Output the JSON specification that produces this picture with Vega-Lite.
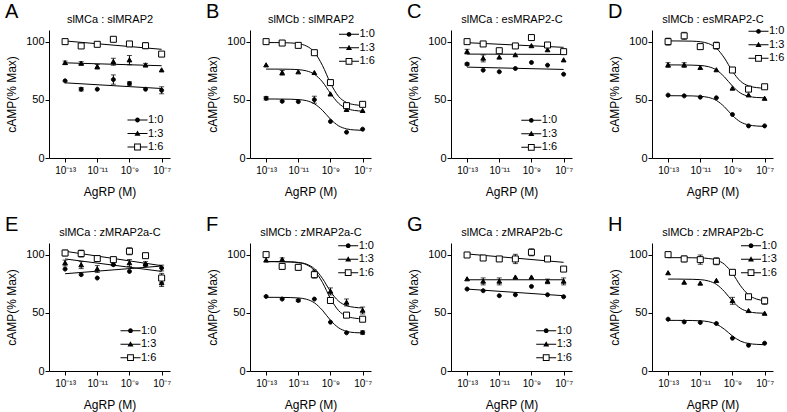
{
"$schema": "https://vega.github.io/schema/vega-lite/v6.json",
"background": "white",
"padding": {"left": 5, "top": 2, "right": 0, "bottom": 5},
"config": {
 "font": "Liberation Sans",
 "view": {"stroke": null},
 "axis": {"domainColor": "black", "tickColor": "black", "labelColor": "black", "titleColor": "black", "grid": false, "labelFontSize": 11, "titleFontSize": 12, "titleFontWeight": "normal", "tickSize": 4, "domainWidth": 1, "tickWidth": 1},
 "legend": {"labelFontSize": 11, "labelColor": "black", "padding": 0, "rowPadding": 1.5, "labelOffset": 5, "symbolSize": 64, "symbolStrokeWidth": 0, "symbolOpacity": 1, "title": null},
 "title": {"fontSize": 20, "fontWeight": "normal", "color": "black", "anchor": "start", "frame": "group", "dx": -44, "offset": -9, "baseline": "alphabetic"}
},
"datasets": {
 "pts": [
  {"p":"A","s":"1:0","x":-13,"y":66.3,"e":0},{"p":"A","s":"1:0","x":-12,"y":59.1,"e":1.5},{"p":"A","s":"1:0","x":-11,"y":59.1,"e":0},{"p":"A","s":"1:0","x":-10,"y":67.4,"e":4},{"p":"A","s":"1:0","x":-9,"y":64.0,"e":1.5},{"p":"A","s":"1:0","x":-8,"y":59.1,"e":0},{"p":"A","s":"1:0","x":-7,"y":58.2,"e":3},
  {"p":"A","s":"1:3","x":-13,"y":81.8,"e":1.5},{"p":"A","s":"1:3","x":-12,"y":81.3,"e":1.5},{"p":"A","s":"1:3","x":-11,"y":78.4,"e":2},{"p":"A","s":"1:3","x":-10,"y":82.7,"e":3},{"p":"A","s":"1:3","x":-9,"y":84.1,"e":4},{"p":"A","s":"1:3","x":-8,"y":79.8,"e":1.5},{"p":"A","s":"1:3","x":-7,"y":75.5,"e":0},
  {"p":"A","s":"1:6","x":-13,"y":100,"e":0},{"p":"A","s":"1:6","x":-12,"y":96.3,"e":0},{"p":"A","s":"1:6","x":-11,"y":97.7,"e":1.5},{"p":"A","s":"1:6","x":-10,"y":102,"e":0},{"p":"A","s":"1:6","x":-9,"y":98,"e":0},{"p":"A","s":"1:6","x":-8,"y":96.5,"e":2.5},{"p":"A","s":"1:6","x":-7,"y":89.3,"e":0},
  {"p":"B","s":"1:0","x":-13,"y":51.3,"e":1.5},{"p":"B","s":"1:0","x":-12,"y":48.7,"e":0},{"p":"B","s":"1:0","x":-11,"y":48.4,"e":0},{"p":"B","s":"1:0","x":-10,"y":50.1,"e":3},{"p":"B","s":"1:0","x":-9,"y":31.4,"e":0},{"p":"B","s":"1:0","x":-8,"y":22.2,"e":0},{"p":"B","s":"1:0","x":-7,"y":24.8,"e":0},
  {"p":"B","s":"1:3","x":-13,"y":79.8,"e":0},{"p":"B","s":"1:3","x":-12,"y":73.2,"e":2},{"p":"B","s":"1:3","x":-11,"y":73.8,"e":0},{"p":"B","s":"1:3","x":-10,"y":73.2,"e":0},{"p":"B","s":"1:3","x":-9,"y":54.8,"e":0},{"p":"B","s":"1:3","x":-8,"y":41.5,"e":0},{"p":"B","s":"1:3","x":-7,"y":40.6,"e":0},
  {"p":"B","s":"1:6","x":-13,"y":100,"e":0},{"p":"B","s":"1:6","x":-12,"y":98.8,"e":0},{"p":"B","s":"1:6","x":-11,"y":96.8,"e":0},{"p":"B","s":"1:6","x":-10,"y":90.5,"e":0},{"p":"B","s":"1:6","x":-9,"y":64.8,"e":2},{"p":"B","s":"1:6","x":-8,"y":45,"e":0},{"p":"B","s":"1:6","x":-7,"y":46.1,"e":0},
  {"p":"C","s":"1:0","x":-13,"y":80.7,"e":1},{"p":"C","s":"1:0","x":-12,"y":75.5,"e":0},{"p":"C","s":"1:0","x":-11,"y":74.1,"e":0},{"p":"C","s":"1:0","x":-10,"y":76.9,"e":0},{"p":"C","s":"1:0","x":-9,"y":82.1,"e":0},{"p":"C","s":"1:0","x":-8,"y":79.8,"e":0},{"p":"C","s":"1:0","x":-7,"y":72,"e":0},
  {"p":"C","s":"1:3","x":-13,"y":91.4,"e":2},{"p":"C","s":"1:3","x":-12,"y":85.6,"e":3},{"p":"C","s":"1:3","x":-11,"y":86.5,"e":0},{"p":"C","s":"1:3","x":-10,"y":88.5,"e":0},{"p":"C","s":"1:3","x":-9,"y":96.3,"e":0},{"p":"C","s":"1:3","x":-8,"y":92.8,"e":0},{"p":"C","s":"1:3","x":-7,"y":84.1,"e":0},
  {"p":"C","s":"1:6","x":-13,"y":100,"e":1.5},{"p":"C","s":"1:6","x":-12,"y":98,"e":1.5},{"p":"C","s":"1:6","x":-11,"y":92.2,"e":0},{"p":"C","s":"1:6","x":-10,"y":96.3,"e":1.5},{"p":"C","s":"1:6","x":-9,"y":103.5,"e":0},{"p":"C","s":"1:6","x":-8,"y":97.1,"e":0},{"p":"C","s":"1:6","x":-7,"y":91.4,"e":1.5},
  {"p":"D","s":"1:0","x":-13,"y":54,"e":0},{"p":"D","s":"1:0","x":-12,"y":53.4,"e":0},{"p":"D","s":"1:0","x":-11,"y":52.3,"e":0},{"p":"D","s":"1:0","x":-10,"y":51.7,"e":0},{"p":"D","s":"1:0","x":-9,"y":37.4,"e":0},{"p":"D","s":"1:0","x":-8,"y":27.6,"e":0},{"p":"D","s":"1:0","x":-7,"y":27.6,"e":0},
  {"p":"D","s":"1:3","x":-13,"y":79.9,"e":2},{"p":"D","s":"1:3","x":-12,"y":79.9,"e":2},{"p":"D","s":"1:3","x":-11,"y":77.6,"e":0},{"p":"D","s":"1:3","x":-10,"y":75.6,"e":0},{"p":"D","s":"1:3","x":-9,"y":59.8,"e":0},{"p":"D","s":"1:3","x":-8,"y":54,"e":0},{"p":"D","s":"1:3","x":-7,"y":51.1,"e":0},
  {"p":"D","s":"1:6","x":-13,"y":100,"e":3},{"p":"D","s":"1:6","x":-12,"y":105,"e":3},{"p":"D","s":"1:6","x":-11,"y":95.7,"e":2},{"p":"D","s":"1:6","x":-10,"y":96.6,"e":3},{"p":"D","s":"1:6","x":-9,"y":75.6,"e":0},{"p":"D","s":"1:6","x":-8,"y":59.2,"e":1.5},{"p":"D","s":"1:6","x":-7,"y":61.2,"e":0},
  {"p":"E","s":"1:0","x":-13,"y":87.6,"e":0},{"p":"E","s":"1:0","x":-12,"y":82.8,"e":0},{"p":"E","s":"1:0","x":-11,"y":79.9,"e":0},{"p":"E","s":"1:0","x":-10,"y":91.4,"e":0},{"p":"E","s":"1:0","x":-9,"y":85.6,"e":0},{"p":"E","s":"1:0","x":-8,"y":91.4,"e":0},{"p":"E","s":"1:0","x":-7,"y":88.5,"e":2.5},
  {"p":"E","s":"1:3","x":-13,"y":92.8,"e":2.5},{"p":"E","s":"1:3","x":-12,"y":91,"e":3},{"p":"E","s":"1:3","x":-11,"y":87.6,"e":3},{"p":"E","s":"1:3","x":-10,"y":92,"e":0},{"p":"E","s":"1:3","x":-9,"y":92.8,"e":3},{"p":"E","s":"1:3","x":-8,"y":92,"e":2},{"p":"E","s":"1:3","x":-7,"y":75.6,"e":3},
  {"p":"E","s":"1:6","x":-13,"y":101.4,"e":2.5},{"p":"E","s":"1:6","x":-12,"y":100.9,"e":3},{"p":"E","s":"1:6","x":-11,"y":96.6,"e":2.5},{"p":"E","s":"1:6","x":-10,"y":95.7,"e":0},{"p":"E","s":"1:6","x":-9,"y":102.9,"e":3},{"p":"E","s":"1:6","x":-8,"y":99.1,"e":1.5},{"p":"E","s":"1:6","x":-7,"y":79.9,"e":4},
  {"p":"F","s":"1:0","x":-13,"y":64.1,"e":0},{"p":"F","s":"1:0","x":-12,"y":61.8,"e":0},{"p":"F","s":"1:0","x":-11,"y":60.6,"e":1},{"p":"F","s":"1:0","x":-10,"y":61.8,"e":0},{"p":"F","s":"1:0","x":-9,"y":42,"e":0},{"p":"F","s":"1:0","x":-8,"y":32.8,"e":0},{"p":"F","s":"1:0","x":-7,"y":33,"e":1.5},
  {"p":"F","s":"1:3","x":-13,"y":95.1,"e":0},{"p":"F","s":"1:3","x":-12,"y":95.7,"e":1.5},{"p":"F","s":"1:3","x":-11,"y":89.6,"e":0},{"p":"F","s":"1:3","x":-10,"y":84.8,"e":2},{"p":"F","s":"1:3","x":-9,"y":68.4,"e":3},{"p":"F","s":"1:3","x":-8,"y":58.9,"e":3},{"p":"F","s":"1:3","x":-7,"y":52,"e":3},
  {"p":"F","s":"1:6","x":-13,"y":100,"e":2},{"p":"F","s":"1:6","x":-12,"y":89.9,"e":2.5},{"p":"F","s":"1:6","x":-11,"y":89.1,"e":2.5},{"p":"F","s":"1:6","x":-10,"y":82.8,"e":3},{"p":"F","s":"1:6","x":-9,"y":60.6,"e":2},{"p":"F","s":"1:6","x":-8,"y":48,"e":0},{"p":"F","s":"1:6","x":-7,"y":44.5,"e":0},
  {"p":"G","s":"1:0","x":-13,"y":70.4,"e":0},{"p":"G","s":"1:0","x":-12,"y":69,"e":0},{"p":"G","s":"1:0","x":-11,"y":64.7,"e":0},{"p":"G","s":"1:0","x":-10,"y":65.5,"e":0},{"p":"G","s":"1:0","x":-9,"y":72.7,"e":0},{"p":"G","s":"1:0","x":-8,"y":65.5,"e":0},{"p":"G","s":"1:0","x":-7,"y":63.8,"e":0},
  {"p":"G","s":"1:3","x":-13,"y":79,"e":0},{"p":"G","s":"1:3","x":-12,"y":77,"e":3},{"p":"G","s":"1:3","x":-11,"y":77,"e":3},{"p":"G","s":"1:3","x":-10,"y":80.5,"e":0},{"p":"G","s":"1:3","x":-9,"y":80.5,"e":0},{"p":"G","s":"1:3","x":-8,"y":77,"e":2},{"p":"G","s":"1:3","x":-7,"y":77,"e":3},
  {"p":"G","s":"1:6","x":-13,"y":99.7,"e":1.5},{"p":"G","s":"1:6","x":-12,"y":97.1,"e":0},{"p":"G","s":"1:6","x":-11,"y":96.3,"e":2},{"p":"G","s":"1:6","x":-10,"y":96.3,"e":4},{"p":"G","s":"1:6","x":-9,"y":102,"e":3},{"p":"G","s":"1:6","x":-8,"y":96.3,"e":1.5},{"p":"G","s":"1:6","x":-7,"y":87.6,"e":0},
  {"p":"H","s":"1:0","x":-13,"y":44.5,"e":0},{"p":"H","s":"1:0","x":-12,"y":42.2,"e":0},{"p":"H","s":"1:0","x":-11,"y":41.7,"e":0},{"p":"H","s":"1:0","x":-10,"y":40.8,"e":0},{"p":"H","s":"1:0","x":-9,"y":28.2,"e":0},{"p":"H","s":"1:0","x":-8,"y":22.1,"e":0},{"p":"H","s":"1:0","x":-7,"y":23.9,"e":0},
  {"p":"H","s":"1:3","x":-13,"y":84.2,"e":0},{"p":"H","s":"1:3","x":-12,"y":76.1,"e":0},{"p":"H","s":"1:3","x":-11,"y":75.3,"e":0},{"p":"H","s":"1:3","x":-10,"y":77.6,"e":0},{"p":"H","s":"1:3","x":-9,"y":60.3,"e":3},{"p":"H","s":"1:3","x":-8,"y":51.7,"e":0},{"p":"H","s":"1:3","x":-7,"y":49.4,"e":0},
  {"p":"H","s":"1:6","x":-13,"y":100,"e":2},{"p":"H","s":"1:6","x":-12,"y":96.3,"e":2.5},{"p":"H","s":"1:6","x":-11,"y":95.7,"e":4},{"p":"H","s":"1:6","x":-10,"y":94.3,"e":3},{"p":"H","s":"1:6","x":-9,"y":84.8,"e":2},{"p":"H","s":"1:6","x":-8,"y":63.8,"e":0},{"p":"H","s":"1:6","x":-7,"y":60.3,"e":3}
 ],
 "fit": [
  {"p":"A","s":"1:0","x":-13,"y":64.6},{"p":"A","s":"1:0","x":-7,"y":59.7},
  {"p":"A","s":"1:3","x":-13,"y":81.8},{"p":"A","s":"1:3","x":-7,"y":79.3},
  {"p":"A","s":"1:6","x":-13,"y":100.6},{"p":"A","s":"1:6","x":-7,"y":93.4},
  {"p":"C","s":"1:0","x":-13,"y":78.1},{"p":"C","s":"1:0","x":-7,"y":76.1},
  {"p":"C","s":"1:3","x":-13,"y":89.3},{"p":"C","s":"1:3","x":-7,"y":89.0},
  {"p":"C","s":"1:6","x":-13,"y":99.1},{"p":"C","s":"1:6","x":-7,"y":95.1},
  {"p":"E","s":"1:0","x":-13,"y":83.6},{"p":"E","s":"1:0","x":-7,"y":90.2},
  {"p":"E","s":"1:3","x":-13,"y":96.3},{"p":"E","s":"1:3","x":-7,"y":85.6},
  {"p":"E","s":"1:6","x":-13,"y":102.9},{"p":"E","s":"1:6","x":-7,"y":90.5},
  {"p":"G","s":"1:0","x":-13,"y":70.4},{"p":"G","s":"1:0","x":-7,"y":64.7},
  {"p":"G","s":"1:3","x":-13,"y":78.4},{"p":"G","s":"1:3","x":-7,"y":78.4},
  {"p":"G","s":"1:6","x":-13,"y":100.6},{"p":"G","s":"1:6","x":-7,"y":93.4},
  {"p":"B","s":"1:0","x":-13,"y":50.7},{"p":"B","s":"1:0","x":-12.5,"y":50.7},{"p":"B","s":"1:0","x":-12,"y":50.6},{"p":"B","s":"1:0","x":-11.5,"y":50.55},{"p":"B","s":"1:0","x":-11,"y":50.2},{"p":"B","s":"1:0","x":-10.5,"y":49.3},{"p":"B","s":"1:0","x":-10,"y":46.6},{"p":"B","s":"1:0","x":-9.5,"y":41.0},{"p":"B","s":"1:0","x":-9,"y":33.4},{"p":"B","s":"1:0","x":-8.5,"y":27.7},{"p":"B","s":"1:0","x":-8,"y":25.0},{"p":"B","s":"1:0","x":-7.5,"y":24.1},{"p":"B","s":"1:0","x":-7,"y":23.75},
  {"p":"B","s":"1:3","x":-13,"y":76.4},{"p":"B","s":"1:3","x":-12.5,"y":76.4},{"p":"B","s":"1:3","x":-12,"y":76.35},{"p":"B","s":"1:3","x":-11.5,"y":76.25},{"p":"B","s":"1:3","x":-11,"y":75.9},{"p":"B","s":"1:3","x":-10.5,"y":74.9},{"p":"B","s":"1:3","x":-10,"y":72.0},{"p":"B","s":"1:3","x":-9.5,"y":65.5},{"p":"B","s":"1:3","x":-9,"y":55.6},{"p":"B","s":"1:3","x":-8.5,"y":47.1},{"p":"B","s":"1:3","x":-8,"y":42.6},{"p":"B","s":"1:3","x":-7.5,"y":40.85},{"p":"B","s":"1:3","x":-7,"y":40.3},
  {"p":"B","s":"1:6","x":-13,"y":99.2},{"p":"B","s":"1:6","x":-12.5,"y":99.2},{"p":"B","s":"1:6","x":-12,"y":99.1},{"p":"B","s":"1:6","x":-11.5,"y":98.9},{"p":"B","s":"1:6","x":-11,"y":98.2},{"p":"B","s":"1:6","x":-10.5,"y":96.3},{"p":"B","s":"1:6","x":-10,"y":91.0},{"p":"B","s":"1:6","x":-9.5,"y":79.6},{"p":"B","s":"1:6","x":-9,"y":64.4},{"p":"B","s":"1:6","x":-8.5,"y":53.0},{"p":"B","s":"1:6","x":-8,"y":47.7},{"p":"B","s":"1:6","x":-7.5,"y":45.8},{"p":"B","s":"1:6","x":-7,"y":45.1},
  {"p":"D","s":"1:0","x":-13,"y":53.5},{"p":"D","s":"1:0","x":-12.5,"y":53.5},{"p":"D","s":"1:0","x":-12,"y":53.45},{"p":"D","s":"1:0","x":-11.5,"y":53.35},{"p":"D","s":"1:0","x":-11,"y":53.0},{"p":"D","s":"1:0","x":-10.5,"y":52.1},{"p":"D","s":"1:0","x":-10,"y":49.5},{"p":"D","s":"1:0","x":-9.5,"y":44.0},{"p":"D","s":"1:0","x":-9,"y":36.5},{"p":"D","s":"1:0","x":-8.5,"y":31.0},{"p":"D","s":"1:0","x":-8,"y":28.4},{"p":"D","s":"1:0","x":-7.5,"y":27.5},{"p":"D","s":"1:0","x":-7,"y":27.15},
  {"p":"D","s":"1:3","x":-13,"y":80},{"p":"D","s":"1:3","x":-12.5,"y":80},{"p":"D","s":"1:3","x":-12,"y":79.9},{"p":"D","s":"1:3","x":-11.5,"y":79.8},{"p":"D","s":"1:3","x":-11,"y":79.5},{"p":"D","s":"1:3","x":-10.5,"y":78.5},{"p":"D","s":"1:3","x":-10,"y":75.7},{"p":"D","s":"1:3","x":-9.5,"y":69.7},{"p":"D","s":"1:3","x":-9,"y":61.8},{"p":"D","s":"1:3","x":-8.5,"y":55.8},{"p":"D","s":"1:3","x":-8,"y":53.0},{"p":"D","s":"1:3","x":-7.5,"y":52.0},{"p":"D","s":"1:3","x":-7,"y":51.7},
  {"p":"D","s":"1:6","x":-13,"y":100.6},{"p":"D","s":"1:6","x":-12.5,"y":100.6},{"p":"D","s":"1:6","x":-12,"y":100.5},{"p":"D","s":"1:6","x":-11.5,"y":100.4},{"p":"D","s":"1:6","x":-11,"y":99.9},{"p":"D","s":"1:6","x":-10.5,"y":98.4},{"p":"D","s":"1:6","x":-10,"y":94.4},{"p":"D","s":"1:6","x":-9.5,"y":85.9},{"p":"D","s":"1:6","x":-9,"y":74.5},{"p":"D","s":"1:6","x":-8.5,"y":66.0},{"p":"D","s":"1:6","x":-8,"y":62.0},{"p":"D","s":"1:6","x":-7.5,"y":60.5},{"p":"D","s":"1:6","x":-7,"y":60.0},
  {"p":"F","s":"1:0","x":-13,"y":63.3},{"p":"F","s":"1:0","x":-12.5,"y":63.3},{"p":"F","s":"1:0","x":-12,"y":63.25},{"p":"F","s":"1:0","x":-11.5,"y":63.1},{"p":"F","s":"1:0","x":-11,"y":62.8},{"p":"F","s":"1:0","x":-10.5,"y":61.7},{"p":"F","s":"1:0","x":-10,"y":58.6},{"p":"F","s":"1:0","x":-9.5,"y":52.2},{"p":"F","s":"1:0","x":-9,"y":43.6},{"p":"F","s":"1:0","x":-8.5,"y":37.2},{"p":"F","s":"1:0","x":-8,"y":34.1},{"p":"F","s":"1:0","x":-7.5,"y":33.0},{"p":"F","s":"1:0","x":-7,"y":32.7},
  {"p":"F","s":"1:3","x":-13,"y":94},{"p":"F","s":"1:3","x":-12.5,"y":94},{"p":"F","s":"1:3","x":-12,"y":93.9},{"p":"F","s":"1:3","x":-11.5,"y":93.8},{"p":"F","s":"1:3","x":-11,"y":93.3},{"p":"F","s":"1:3","x":-10.5,"y":91.9},{"p":"F","s":"1:3","x":-10,"y":87.9},{"p":"F","s":"1:3","x":-9.5,"y":79.6},{"p":"F","s":"1:3","x":-9,"y":68.4},{"p":"F","s":"1:3","x":-8.5,"y":60.1},{"p":"F","s":"1:3","x":-8,"y":56.2},{"p":"F","s":"1:3","x":-7.5,"y":54.7},{"p":"F","s":"1:3","x":-7,"y":54.2},
  {"p":"F","s":"1:6","x":-13,"y":94},{"p":"F","s":"1:6","x":-12.5,"y":94},{"p":"F","s":"1:6","x":-12,"y":93.9},{"p":"F","s":"1:6","x":-11.5,"y":93.7},{"p":"F","s":"1:6","x":-11,"y":93.1},{"p":"F","s":"1:6","x":-10.5,"y":91.4},{"p":"F","s":"1:6","x":-10,"y":86.5},{"p":"F","s":"1:6","x":-9.5,"y":76.2},{"p":"F","s":"1:6","x":-9,"y":62.3},{"p":"F","s":"1:6","x":-8.5,"y":52.0},{"p":"F","s":"1:6","x":-8,"y":47.1},{"p":"F","s":"1:6","x":-7.5,"y":45.4},{"p":"F","s":"1:6","x":-7,"y":44.8},
  {"p":"H","s":"1:0","x":-13,"y":43.5},{"p":"H","s":"1:0","x":-12.5,"y":43.5},{"p":"H","s":"1:0","x":-12,"y":43.45},{"p":"H","s":"1:0","x":-11.5,"y":43.4},{"p":"H","s":"1:0","x":-11,"y":43.1},{"p":"H","s":"1:0","x":-10.5,"y":42.4},{"p":"H","s":"1:0","x":-10,"y":40.3},{"p":"H","s":"1:0","x":-9.5,"y":35.9},{"p":"H","s":"1:0","x":-9,"y":30.1},{"p":"H","s":"1:0","x":-8.5,"y":25.7},{"p":"H","s":"1:0","x":-8,"y":23.6},{"p":"H","s":"1:0","x":-7.5,"y":22.9},{"p":"H","s":"1:0","x":-7,"y":22.6},
  {"p":"H","s":"1:3","x":-13,"y":79},{"p":"H","s":"1:3","x":-12.5,"y":79},{"p":"H","s":"1:3","x":-12,"y":78.9},{"p":"H","s":"1:3","x":-11.5,"y":78.8},{"p":"H","s":"1:3","x":-11,"y":78.5},{"p":"H","s":"1:3","x":-10.5,"y":77.4},{"p":"H","s":"1:3","x":-10,"y":74.5},{"p":"H","s":"1:3","x":-9.5,"y":68.3},{"p":"H","s":"1:3","x":-9,"y":60.1},{"p":"H","s":"1:3","x":-8.5,"y":53.9},{"p":"H","s":"1:3","x":-8,"y":51.0},{"p":"H","s":"1:3","x":-7.5,"y":49.9},{"p":"H","s":"1:3","x":-7,"y":49.6},
  {"p":"H","s":"1:6","x":-13,"y":97.4},{"p":"H","s":"1:6","x":-12.5,"y":97.4},{"p":"H","s":"1:6","x":-12,"y":97.4},{"p":"H","s":"1:6","x":-11.5,"y":97.3},{"p":"H","s":"1:6","x":-11,"y":97.2},{"p":"H","s":"1:6","x":-10.5,"y":96.7},{"p":"H","s":"1:6","x":-10,"y":95.4},{"p":"H","s":"1:6","x":-9.5,"y":91.7},{"p":"H","s":"1:6","x":-9,"y":83.9},{"p":"H","s":"1:6","x":-8.5,"y":73.3},{"p":"H","s":"1:6","x":-8,"y":65.5},{"p":"H","s":"1:6","x":-7.5,"y":61.8},{"p":"H","s":"1:6","x":-7,"y":60.5}
 ]
},
"columns": 4,
"spacing": {"row": 85, "column": 80},
"bounds": "flush",
"resolve": {"scale": {"shape": "independent", "fill": "independent"}, "legend": {"shape": "independent", "fill": "independent"}},
"concat": [
 {"width": 121, "height": 128, "title": {"text": "A"},
  "layer": [
   {"data": {"name": "fit"}, "transform": [{"filter": "datum.p === 'A'"}], "mark": {"type": "line", "interpolate": "monotone", "color": "black", "strokeWidth": 1},
    "encoding": {"x": {"field": "x", "type": "quantitative", "scale": {"domain": [-14, -6.48], "nice": false, "zero": false}, "axis": {"values": [-13, -11, -9, -7], "labelExpr": "datum.value === -13 ? '10⁻¹³' : datum.value === -11 ? '10⁻¹¹' : datum.value === -9 ? '10⁻⁹' : '10⁻⁷'", "title": "AgRP (M)", "labelFontSize": 10, "labelPadding": 3, "titlePadding": 11}},
     "y": {"field": "y", "type": "quantitative", "scale": {"domain": [0, 110], "nice": false}, "axis": {"values": [0, 50, 100], "title": "cAMP(% Max)", "labelPadding": 1, "titlePadding": 7}},
     "detail": {"field": "s"}}},
   {"data": {"name": "pts"}, "transform": [{"filter": "datum.p === 'A' && datum.e > 0"}], "mark": {"type": "errorbar", "ticks": {"size": 5}, "color": "black", "thickness": 1},
    "encoding": {"x": {"field": "x", "type": "quantitative", "axis": null}, "y": {"field": "y", "type": "quantitative", "axis": null}, "yError": {"field": "e"}}},
   {"data": {"name": "pts"}, "transform": [{"filter": "datum.p === 'A'"}], "mark": {"type": "point", "filled": true, "stroke": "black", "strokeWidth": 1, "opacity": 1, "size": 25},
    "encoding": {"x": {"field": "x", "type": "quantitative", "axis": {"orient": "top", "title": "slMCa : slMRAP2", "labels": false, "ticks": false, "domain": false, "titleFontSize": 11, "titlePadding": 6}},
     "y": {"field": "y", "type": "quantitative", "axis": null},
     "shape": {"field": "s", "type": "nominal", "scale": {"domain": ["1:0", "1:3", "1:6"], "range": ["M-0.8,0A0.8,0.8 0 1,0 0.8,0A0.8,0.8 0 1,0 -0.8,0", "M-0.95,0.7L0.95,0.7L0,-0.95Z", "M-1.2,-1.2H1.2V1.2H-1.2Z"]}, "legend": null},
     "fill": {"field": "s", "type": "nominal", "scale": {"domain": ["1:0", "1:3", "1:6"], "range": ["black", "black", "white"]}, "legend": null}}},
   {"data": {"name": "pts"}, "transform": [{"filter": "datum.p === 'A' && datum.x === -13"}], "mark": {"type": "point", "filled": true, "opacity": 0},
    "encoding": {"x": {"field": "x", "type": "quantitative", "axis": null}, "y": {"field": "y", "type": "quantitative", "axis": null},
     "shape": {"field": "s", "type": "nominal", "scale": {"domain": ["1:0", "1:3", "1:6"], "range": ["M-2.5,-0.125V0.125H-0.5V-0.125ZM0.5,-0.125V0.125H2.5V-0.125ZM-0.6,0A0.6,0.6 0 1,0 0.6,0A0.6,0.6 0 1,0 -0.6,0", "M-2.5,-0.125V0.125H-0.4V-0.125ZM0.4,-0.125V0.125H2.5V-0.125ZM-0.75,0.55L0.75,0.55L0,-0.75Z", "M-2.5,-0.125V0.125H-0.85V-0.125ZM0.85,-0.125V0.125H2.5V-0.125ZM-0.85,-0.85V0.85H0.85V-0.85ZM-0.6,-0.6H0.6V0.6H-0.6Z"]}, "legend": {"orient": "none", "legendX": 83, "legendY": 84.5, "symbolOpacity": 1}},
     "fill": {"field": "s", "type": "nominal", "scale": {"domain": ["1:0", "1:3", "1:6"], "range": ["black", "black", "black"]}, "legend": {"orient": "none", "legendX": 83, "legendY": 84.5, "symbolOpacity": 1}}}}
  ],
  "resolve": {"axis": {"x": "independent", "y": "independent"}, "scale": {"shape": "independent", "fill": "independent"}, "legend": {"shape": "independent", "fill": "independent"}}},
 {"width": 121, "height": 128, "title": {"text": "B"},
  "layer": [
   {"data": {"name": "fit"}, "transform": [{"filter": "datum.p === 'B'"}], "mark": {"type": "line", "interpolate": "monotone", "color": "black", "strokeWidth": 1},
    "encoding": {"x": {"field": "x", "type": "quantitative", "scale": {"domain": [-14, -6.48], "nice": false, "zero": false}, "axis": {"values": [-13, -11, -9, -7], "labelExpr": "datum.value === -13 ? '10⁻¹³' : datum.value === -11 ? '10⁻¹¹' : datum.value === -9 ? '10⁻⁹' : '10⁻⁷'", "title": "AgRP (M)", "labelFontSize": 10, "labelPadding": 3, "titlePadding": 11}},
     "y": {"field": "y", "type": "quantitative", "scale": {"domain": [0, 110], "nice": false}, "axis": {"values": [0, 50, 100], "title": "cAMP(% Max)", "labelPadding": 1, "titlePadding": 7}},
     "detail": {"field": "s"}}},
   {"data": {"name": "pts"}, "transform": [{"filter": "datum.p === 'B' && datum.e > 0"}], "mark": {"type": "errorbar", "ticks": {"size": 5}, "color": "black", "thickness": 1},
    "encoding": {"x": {"field": "x", "type": "quantitative", "axis": null}, "y": {"field": "y", "type": "quantitative", "axis": null}, "yError": {"field": "e"}}},
   {"data": {"name": "pts"}, "transform": [{"filter": "datum.p === 'B'"}], "mark": {"type": "point", "filled": true, "stroke": "black", "strokeWidth": 1, "opacity": 1, "size": 25},
    "encoding": {"x": {"field": "x", "type": "quantitative", "axis": {"orient": "top", "title": "slMCb : slMRAP2", "labels": false, "ticks": false, "domain": false, "titleFontSize": 11, "titlePadding": 6}},
     "y": {"field": "y", "type": "quantitative", "axis": null},
     "shape": {"field": "s", "type": "nominal", "scale": {"domain": ["1:0", "1:3", "1:6"], "range": ["M-0.8,0A0.8,0.8 0 1,0 0.8,0A0.8,0.8 0 1,0 -0.8,0", "M-0.95,0.7L0.95,0.7L0,-0.95Z", "M-1.2,-1.2H1.2V1.2H-1.2Z"]}, "legend": null},
     "fill": {"field": "s", "type": "nominal", "scale": {"domain": ["1:0", "1:3", "1:6"], "range": ["black", "black", "white"]}, "legend": null}}},
   {"data": {"name": "pts"}, "transform": [{"filter": "datum.p === 'B' && datum.x === -13"}], "mark": {"type": "point", "filled": true, "opacity": 0},
    "encoding": {"x": {"field": "x", "type": "quantitative", "axis": null}, "y": {"field": "y", "type": "quantitative", "axis": null},
     "shape": {"field": "s", "type": "nominal", "scale": {"domain": ["1:0", "1:3", "1:6"], "range": ["M-2.5,-0.125V0.125H-0.5V-0.125ZM0.5,-0.125V0.125H2.5V-0.125ZM-0.6,0A0.6,0.6 0 1,0 0.6,0A0.6,0.6 0 1,0 -0.6,0", "M-2.5,-0.125V0.125H-0.4V-0.125ZM0.4,-0.125V0.125H2.5V-0.125ZM-0.75,0.55L0.75,0.55L0,-0.75Z", "M-2.5,-0.125V0.125H-0.85V-0.125ZM0.85,-0.125V0.125H2.5V-0.125ZM-0.85,-0.85V0.85H0.85V-0.85ZM-0.6,-0.6H0.6V0.6H-0.6Z"]}, "legend": {"orient": "none", "legendX": 93.5, "legendY": -1.2, "symbolOpacity": 1}},
     "fill": {"field": "s", "type": "nominal", "scale": {"domain": ["1:0", "1:3", "1:6"], "range": ["black", "black", "black"]}, "legend": {"orient": "none", "legendX": 93.5, "legendY": -1.2, "symbolOpacity": 1}}}}
  ],
  "resolve": {"axis": {"x": "independent", "y": "independent"}, "scale": {"shape": "independent", "fill": "independent"}, "legend": {"shape": "independent", "fill": "independent"}}},
 {"width": 121, "height": 128, "title": {"text": "C"},
  "layer": [
   {"data": {"name": "fit"}, "transform": [{"filter": "datum.p === 'C'"}], "mark": {"type": "line", "interpolate": "monotone", "color": "black", "strokeWidth": 1},
    "encoding": {"x": {"field": "x", "type": "quantitative", "scale": {"domain": [-14, -6.48], "nice": false, "zero": false}, "axis": {"values": [-13, -11, -9, -7], "labelExpr": "datum.value === -13 ? '10⁻¹³' : datum.value === -11 ? '10⁻¹¹' : datum.value === -9 ? '10⁻⁹' : '10⁻⁷'", "title": "AgRP (M)", "labelFontSize": 10, "labelPadding": 3, "titlePadding": 11}},
     "y": {"field": "y", "type": "quantitative", "scale": {"domain": [0, 110], "nice": false}, "axis": {"values": [0, 50, 100], "title": "cAMP(% Max)", "labelPadding": 1, "titlePadding": 7}},
     "detail": {"field": "s"}}},
   {"data": {"name": "pts"}, "transform": [{"filter": "datum.p === 'C' && datum.e > 0"}], "mark": {"type": "errorbar", "ticks": {"size": 5}, "color": "black", "thickness": 1},
    "encoding": {"x": {"field": "x", "type": "quantitative", "axis": null}, "y": {"field": "y", "type": "quantitative", "axis": null}, "yError": {"field": "e"}}},
   {"data": {"name": "pts"}, "transform": [{"filter": "datum.p === 'C'"}], "mark": {"type": "point", "filled": true, "stroke": "black", "strokeWidth": 1, "opacity": 1, "size": 25},
    "encoding": {"x": {"field": "x", "type": "quantitative", "axis": {"orient": "top", "title": "slMCa : esMRAP2-C", "labels": false, "ticks": false, "domain": false, "titleFontSize": 11, "titlePadding": 6}},
     "y": {"field": "y", "type": "quantitative", "axis": null},
     "shape": {"field": "s", "type": "nominal", "scale": {"domain": ["1:0", "1:3", "1:6"], "range": ["M-0.8,0A0.8,0.8 0 1,0 0.8,0A0.8,0.8 0 1,0 -0.8,0", "M-0.95,0.7L0.95,0.7L0,-0.95Z", "M-1.2,-1.2H1.2V1.2H-1.2Z"]}, "legend": null},
     "fill": {"field": "s", "type": "nominal", "scale": {"domain": ["1:0", "1:3", "1:6"], "range": ["black", "black", "white"]}, "legend": null}}},
   {"data": {"name": "pts"}, "transform": [{"filter": "datum.p === 'C' && datum.x === -13"}], "mark": {"type": "point", "filled": true, "opacity": 0},
    "encoding": {"x": {"field": "x", "type": "quantitative", "axis": null}, "y": {"field": "y", "type": "quantitative", "axis": null},
     "shape": {"field": "s", "type": "nominal", "scale": {"domain": ["1:0", "1:3", "1:6"], "range": ["M-2.5,-0.125V0.125H-0.5V-0.125ZM0.5,-0.125V0.125H2.5V-0.125ZM-0.6,0A0.6,0.6 0 1,0 0.6,0A0.6,0.6 0 1,0 -0.6,0", "M-2.5,-0.125V0.125H-0.4V-0.125ZM0.4,-0.125V0.125H2.5V-0.125ZM-0.75,0.55L0.75,0.55L0,-0.75Z", "M-2.5,-0.125V0.125H-0.85V-0.125ZM0.85,-0.125V0.125H2.5V-0.125ZM-0.85,-0.85V0.85H0.85V-0.85ZM-0.6,-0.6H0.6V0.6H-0.6Z"]}, "legend": {"orient": "none", "legendX": 74.8, "legendY": 84.8, "symbolOpacity": 1}},
     "fill": {"field": "s", "type": "nominal", "scale": {"domain": ["1:0", "1:3", "1:6"], "range": ["black", "black", "black"]}, "legend": {"orient": "none", "legendX": 74.8, "legendY": 84.8, "symbolOpacity": 1}}}}
  ],
  "resolve": {"axis": {"x": "independent", "y": "independent"}, "scale": {"shape": "independent", "fill": "independent"}, "legend": {"shape": "independent", "fill": "independent"}}},
 {"width": 121, "height": 128, "title": {"text": "D"},
  "layer": [
   {"data": {"name": "fit"}, "transform": [{"filter": "datum.p === 'D'"}], "mark": {"type": "line", "interpolate": "monotone", "color": "black", "strokeWidth": 1},
    "encoding": {"x": {"field": "x", "type": "quantitative", "scale": {"domain": [-14, -6.48], "nice": false, "zero": false}, "axis": {"values": [-13, -11, -9, -7], "labelExpr": "datum.value === -13 ? '10⁻¹³' : datum.value === -11 ? '10⁻¹¹' : datum.value === -9 ? '10⁻⁹' : '10⁻⁷'", "title": "AgRP (M)", "labelFontSize": 10, "labelPadding": 3, "titlePadding": 11}},
     "y": {"field": "y", "type": "quantitative", "scale": {"domain": [0, 110], "nice": false}, "axis": {"values": [0, 50, 100], "title": "cAMP(% Max)", "labelPadding": 1, "titlePadding": 7}},
     "detail": {"field": "s"}}},
   {"data": {"name": "pts"}, "transform": [{"filter": "datum.p === 'D' && datum.e > 0"}], "mark": {"type": "errorbar", "ticks": {"size": 5}, "color": "black", "thickness": 1},
    "encoding": {"x": {"field": "x", "type": "quantitative", "axis": null}, "y": {"field": "y", "type": "quantitative", "axis": null}, "yError": {"field": "e"}}},
   {"data": {"name": "pts"}, "transform": [{"filter": "datum.p === 'D'"}], "mark": {"type": "point", "filled": true, "stroke": "black", "strokeWidth": 1, "opacity": 1, "size": 25},
    "encoding": {"x": {"field": "x", "type": "quantitative", "axis": {"orient": "top", "title": "slMCb : esMRAP2-C", "labels": false, "ticks": false, "domain": false, "titleFontSize": 11, "titlePadding": 6}},
     "y": {"field": "y", "type": "quantitative", "axis": null},
     "shape": {"field": "s", "type": "nominal", "scale": {"domain": ["1:0", "1:3", "1:6"], "range": ["M-0.8,0A0.8,0.8 0 1,0 0.8,0A0.8,0.8 0 1,0 -0.8,0", "M-0.95,0.7L0.95,0.7L0,-0.95Z", "M-1.2,-1.2H1.2V1.2H-1.2Z"]}, "legend": null},
     "fill": {"field": "s", "type": "nominal", "scale": {"domain": ["1:0", "1:3", "1:6"], "range": ["black", "black", "white"]}, "legend": null}}},
   {"data": {"name": "pts"}, "transform": [{"filter": "datum.p === 'D' && datum.x === -13"}], "mark": {"type": "point", "filled": true, "opacity": 0},
    "encoding": {"x": {"field": "x", "type": "quantitative", "axis": null}, "y": {"field": "y", "type": "quantitative", "axis": null},
     "shape": {"field": "s", "type": "nominal", "scale": {"domain": ["1:0", "1:3", "1:6"], "range": ["M-2.5,-0.125V0.125H-0.5V-0.125ZM0.5,-0.125V0.125H2.5V-0.125ZM-0.6,0A0.6,0.6 0 1,0 0.6,0A0.6,0.6 0 1,0 -0.6,0", "M-2.5,-0.125V0.125H-0.4V-0.125ZM0.4,-0.125V0.125H2.5V-0.125ZM-0.75,0.55L0.75,0.55L0,-0.75Z", "M-2.5,-0.125V0.125H-0.85V-0.125ZM0.85,-0.125V0.125H2.5V-0.125ZM-0.85,-0.85V0.85H0.85V-0.85ZM-0.6,-0.6H0.6V0.6H-0.6Z"]}, "legend": {"orient": "none", "legendX": 101, "legendY": -4.2, "symbolOpacity": 1}},
     "fill": {"field": "s", "type": "nominal", "scale": {"domain": ["1:0", "1:3", "1:6"], "range": ["black", "black", "black"]}, "legend": {"orient": "none", "legendX": 101, "legendY": -4.2, "symbolOpacity": 1}}}}
  ],
  "resolve": {"axis": {"x": "independent", "y": "independent"}, "scale": {"shape": "independent", "fill": "independent"}, "legend": {"shape": "independent", "fill": "independent"}}},
 {"width": 121, "height": 128, "title": {"text": "E"},
  "layer": [
   {"data": {"name": "fit"}, "transform": [{"filter": "datum.p === 'E'"}], "mark": {"type": "line", "interpolate": "monotone", "color": "black", "strokeWidth": 1},
    "encoding": {"x": {"field": "x", "type": "quantitative", "scale": {"domain": [-14, -6.48], "nice": false, "zero": false}, "axis": {"values": [-13, -11, -9, -7], "labelExpr": "datum.value === -13 ? '10⁻¹³' : datum.value === -11 ? '10⁻¹¹' : datum.value === -9 ? '10⁻⁹' : '10⁻⁷'", "title": "AgRP (M)", "labelFontSize": 10, "labelPadding": 3, "titlePadding": 11}},
     "y": {"field": "y", "type": "quantitative", "scale": {"domain": [0, 110], "nice": false}, "axis": {"values": [0, 50, 100], "title": "cAMP(% Max)", "labelPadding": 1, "titlePadding": 7}},
     "detail": {"field": "s"}}},
   {"data": {"name": "pts"}, "transform": [{"filter": "datum.p === 'E' && datum.e > 0"}], "mark": {"type": "errorbar", "ticks": {"size": 5}, "color": "black", "thickness": 1},
    "encoding": {"x": {"field": "x", "type": "quantitative", "axis": null}, "y": {"field": "y", "type": "quantitative", "axis": null}, "yError": {"field": "e"}}},
   {"data": {"name": "pts"}, "transform": [{"filter": "datum.p === 'E'"}], "mark": {"type": "point", "filled": true, "stroke": "black", "strokeWidth": 1, "opacity": 1, "size": 25},
    "encoding": {"x": {"field": "x", "type": "quantitative", "axis": {"orient": "top", "title": "slMCa : zMRAP2a-C", "labels": false, "ticks": false, "domain": false, "titleFontSize": 11, "titlePadding": 6}},
     "y": {"field": "y", "type": "quantitative", "axis": null},
     "shape": {"field": "s", "type": "nominal", "scale": {"domain": ["1:0", "1:3", "1:6"], "range": ["M-0.8,0A0.8,0.8 0 1,0 0.8,0A0.8,0.8 0 1,0 -0.8,0", "M-0.95,0.7L0.95,0.7L0,-0.95Z", "M-1.2,-1.2H1.2V1.2H-1.2Z"]}, "legend": null},
     "fill": {"field": "s", "type": "nominal", "scale": {"domain": ["1:0", "1:3", "1:6"], "range": ["black", "black", "white"]}, "legend": null}}},
   {"data": {"name": "pts"}, "transform": [{"filter": "datum.p === 'E' && datum.x === -13"}], "mark": {"type": "point", "filled": true, "opacity": 0},
    "encoding": {"x": {"field": "x", "type": "quantitative", "axis": null}, "y": {"field": "y", "type": "quantitative", "axis": null},
     "shape": {"field": "s", "type": "nominal", "scale": {"domain": ["1:0", "1:3", "1:6"], "range": ["M-2.5,-0.125V0.125H-0.5V-0.125ZM0.5,-0.125V0.125H2.5V-0.125ZM-0.6,0A0.6,0.6 0 1,0 0.6,0A0.6,0.6 0 1,0 -0.6,0", "M-2.5,-0.125V0.125H-0.4V-0.125ZM0.4,-0.125V0.125H2.5V-0.125ZM-0.75,0.55L0.75,0.55L0,-0.75Z", "M-2.5,-0.125V0.125H-0.85V-0.125ZM0.85,-0.125V0.125H2.5V-0.125ZM-0.85,-0.85V0.85H0.85V-0.85ZM-0.6,-0.6H0.6V0.6H-0.6Z"]}, "legend": {"orient": "none", "legendX": 76, "legendY": 82.2, "symbolOpacity": 1}},
     "fill": {"field": "s", "type": "nominal", "scale": {"domain": ["1:0", "1:3", "1:6"], "range": ["black", "black", "black"]}, "legend": {"orient": "none", "legendX": 76, "legendY": 82.2, "symbolOpacity": 1}}}}
  ],
  "resolve": {"axis": {"x": "independent", "y": "independent"}, "scale": {"shape": "independent", "fill": "independent"}, "legend": {"shape": "independent", "fill": "independent"}}},
 {"width": 121, "height": 128, "title": {"text": "F"},
  "layer": [
   {"data": {"name": "fit"}, "transform": [{"filter": "datum.p === 'F'"}], "mark": {"type": "line", "interpolate": "monotone", "color": "black", "strokeWidth": 1},
    "encoding": {"x": {"field": "x", "type": "quantitative", "scale": {"domain": [-14, -6.48], "nice": false, "zero": false}, "axis": {"values": [-13, -11, -9, -7], "labelExpr": "datum.value === -13 ? '10⁻¹³' : datum.value === -11 ? '10⁻¹¹' : datum.value === -9 ? '10⁻⁹' : '10⁻⁷'", "title": "AgRP (M)", "labelFontSize": 10, "labelPadding": 3, "titlePadding": 11}},
     "y": {"field": "y", "type": "quantitative", "scale": {"domain": [0, 110], "nice": false}, "axis": {"values": [0, 50, 100], "title": "cAMP(% Max)", "labelPadding": 1, "titlePadding": 7}},
     "detail": {"field": "s"}}},
   {"data": {"name": "pts"}, "transform": [{"filter": "datum.p === 'F' && datum.e > 0"}], "mark": {"type": "errorbar", "ticks": {"size": 5}, "color": "black", "thickness": 1},
    "encoding": {"x": {"field": "x", "type": "quantitative", "axis": null}, "y": {"field": "y", "type": "quantitative", "axis": null}, "yError": {"field": "e"}}},
   {"data": {"name": "pts"}, "transform": [{"filter": "datum.p === 'F'"}], "mark": {"type": "point", "filled": true, "stroke": "black", "strokeWidth": 1, "opacity": 1, "size": 25},
    "encoding": {"x": {"field": "x", "type": "quantitative", "axis": {"orient": "top", "title": "slMCb : zMRAP2a-C", "labels": false, "ticks": false, "domain": false, "titleFontSize": 11, "titlePadding": 6}},
     "y": {"field": "y", "type": "quantitative", "axis": null},
     "shape": {"field": "s", "type": "nominal", "scale": {"domain": ["1:0", "1:3", "1:6"], "range": ["M-0.8,0A0.8,0.8 0 1,0 0.8,0A0.8,0.8 0 1,0 -0.8,0", "M-0.95,0.7L0.95,0.7L0,-0.95Z", "M-1.2,-1.2H1.2V1.2H-1.2Z"]}, "legend": null},
     "fill": {"field": "s", "type": "nominal", "scale": {"domain": ["1:0", "1:3", "1:6"], "range": ["black", "black", "white"]}, "legend": null}}},
   {"data": {"name": "pts"}, "transform": [{"filter": "datum.p === 'F' && datum.x === -13"}], "mark": {"type": "point", "filled": true, "opacity": 0},
    "encoding": {"x": {"field": "x", "type": "quantitative", "axis": null}, "y": {"field": "y", "type": "quantitative", "axis": null},
     "shape": {"field": "s", "type": "nominal", "scale": {"domain": ["1:0", "1:3", "1:6"], "range": ["M-2.5,-0.125V0.125H-0.5V-0.125ZM0.5,-0.125V0.125H2.5V-0.125ZM-0.6,0A0.6,0.6 0 1,0 0.6,0A0.6,0.6 0 1,0 -0.6,0", "M-2.5,-0.125V0.125H-0.4V-0.125ZM0.4,-0.125V0.125H2.5V-0.125ZM-0.75,0.55L0.75,0.55L0,-0.75Z", "M-2.5,-0.125V0.125H-0.85V-0.125ZM0.85,-0.125V0.125H2.5V-0.125ZM-0.85,-0.85V0.85H0.85V-0.85ZM-0.6,-0.6H0.6V0.6H-0.6Z"]}, "legend": {"orient": "none", "legendX": 92.7, "legendY": -2.8, "symbolOpacity": 1}},
     "fill": {"field": "s", "type": "nominal", "scale": {"domain": ["1:0", "1:3", "1:6"], "range": ["black", "black", "black"]}, "legend": {"orient": "none", "legendX": 92.7, "legendY": -2.8, "symbolOpacity": 1}}}}
  ],
  "resolve": {"axis": {"x": "independent", "y": "independent"}, "scale": {"shape": "independent", "fill": "independent"}, "legend": {"shape": "independent", "fill": "independent"}}},
 {"width": 121, "height": 128, "title": {"text": "G"},
  "layer": [
   {"data": {"name": "fit"}, "transform": [{"filter": "datum.p === 'G'"}], "mark": {"type": "line", "interpolate": "monotone", "color": "black", "strokeWidth": 1},
    "encoding": {"x": {"field": "x", "type": "quantitative", "scale": {"domain": [-14, -6.48], "nice": false, "zero": false}, "axis": {"values": [-13, -11, -9, -7], "labelExpr": "datum.value === -13 ? '10⁻¹³' : datum.value === -11 ? '10⁻¹¹' : datum.value === -9 ? '10⁻⁹' : '10⁻⁷'", "title": "AgRP (M)", "labelFontSize": 10, "labelPadding": 3, "titlePadding": 11}},
     "y": {"field": "y", "type": "quantitative", "scale": {"domain": [0, 110], "nice": false}, "axis": {"values": [0, 50, 100], "title": "cAMP(% Max)", "labelPadding": 1, "titlePadding": 7}},
     "detail": {"field": "s"}}},
   {"data": {"name": "pts"}, "transform": [{"filter": "datum.p === 'G' && datum.e > 0"}], "mark": {"type": "errorbar", "ticks": {"size": 5}, "color": "black", "thickness": 1},
    "encoding": {"x": {"field": "x", "type": "quantitative", "axis": null}, "y": {"field": "y", "type": "quantitative", "axis": null}, "yError": {"field": "e"}}},
   {"data": {"name": "pts"}, "transform": [{"filter": "datum.p === 'G'"}], "mark": {"type": "point", "filled": true, "stroke": "black", "strokeWidth": 1, "opacity": 1, "size": 25},
    "encoding": {"x": {"field": "x", "type": "quantitative", "axis": {"orient": "top", "title": "slMCa : zMRAP2b-C", "labels": false, "ticks": false, "domain": false, "titleFontSize": 11, "titlePadding": 6}},
     "y": {"field": "y", "type": "quantitative", "axis": null},
     "shape": {"field": "s", "type": "nominal", "scale": {"domain": ["1:0", "1:3", "1:6"], "range": ["M-0.8,0A0.8,0.8 0 1,0 0.8,0A0.8,0.8 0 1,0 -0.8,0", "M-0.95,0.7L0.95,0.7L0,-0.95Z", "M-1.2,-1.2H1.2V1.2H-1.2Z"]}, "legend": null},
     "fill": {"field": "s", "type": "nominal", "scale": {"domain": ["1:0", "1:3", "1:6"], "range": ["black", "black", "white"]}, "legend": null}}},
   {"data": {"name": "pts"}, "transform": [{"filter": "datum.p === 'G' && datum.x === -13"}], "mark": {"type": "point", "filled": true, "opacity": 0},
    "encoding": {"x": {"field": "x", "type": "quantitative", "axis": null}, "y": {"field": "y", "type": "quantitative", "axis": null},
     "shape": {"field": "s", "type": "nominal", "scale": {"domain": ["1:0", "1:3", "1:6"], "range": ["M-2.5,-0.125V0.125H-0.5V-0.125ZM0.5,-0.125V0.125H2.5V-0.125ZM-0.6,0A0.6,0.6 0 1,0 0.6,0A0.6,0.6 0 1,0 -0.6,0", "M-2.5,-0.125V0.125H-0.4V-0.125ZM0.4,-0.125V0.125H2.5V-0.125ZM-0.75,0.55L0.75,0.55L0,-0.75Z", "M-2.5,-0.125V0.125H-0.85V-0.125ZM0.85,-0.125V0.125H2.5V-0.125ZM-0.85,-0.85V0.85H0.85V-0.85ZM-0.6,-0.6H0.6V0.6H-0.6Z"]}, "legend": {"orient": "none", "legendX": 89.7, "legendY": 82.2, "symbolOpacity": 1}},
     "fill": {"field": "s", "type": "nominal", "scale": {"domain": ["1:0", "1:3", "1:6"], "range": ["black", "black", "black"]}, "legend": {"orient": "none", "legendX": 89.7, "legendY": 82.2, "symbolOpacity": 1}}}}
  ],
  "resolve": {"axis": {"x": "independent", "y": "independent"}, "scale": {"shape": "independent", "fill": "independent"}, "legend": {"shape": "independent", "fill": "independent"}}},
 {"width": 121, "height": 128, "title": {"text": "H"},
  "layer": [
   {"data": {"name": "fit"}, "transform": [{"filter": "datum.p === 'H'"}], "mark": {"type": "line", "interpolate": "monotone", "color": "black", "strokeWidth": 1},
    "encoding": {"x": {"field": "x", "type": "quantitative", "scale": {"domain": [-14, -6.48], "nice": false, "zero": false}, "axis": {"values": [-13, -11, -9, -7], "labelExpr": "datum.value === -13 ? '10⁻¹³' : datum.value === -11 ? '10⁻¹¹' : datum.value === -9 ? '10⁻⁹' : '10⁻⁷'", "title": "AgRP (M)", "labelFontSize": 10, "labelPadding": 3, "titlePadding": 11}},
     "y": {"field": "y", "type": "quantitative", "scale": {"domain": [0, 110], "nice": false}, "axis": {"values": [0, 50, 100], "title": "cAMP(% Max)", "labelPadding": 1, "titlePadding": 7}},
     "detail": {"field": "s"}}},
   {"data": {"name": "pts"}, "transform": [{"filter": "datum.p === 'H' && datum.e > 0"}], "mark": {"type": "errorbar", "ticks": {"size": 5}, "color": "black", "thickness": 1},
    "encoding": {"x": {"field": "x", "type": "quantitative", "axis": null}, "y": {"field": "y", "type": "quantitative", "axis": null}, "yError": {"field": "e"}}},
   {"data": {"name": "pts"}, "transform": [{"filter": "datum.p === 'H'"}], "mark": {"type": "point", "filled": true, "stroke": "black", "strokeWidth": 1, "opacity": 1, "size": 25},
    "encoding": {"x": {"field": "x", "type": "quantitative", "axis": {"orient": "top", "title": "slMCb : zMRAP2b-C", "labels": false, "ticks": false, "domain": false, "titleFontSize": 11, "titlePadding": 6}},
     "y": {"field": "y", "type": "quantitative", "axis": null},
     "shape": {"field": "s", "type": "nominal", "scale": {"domain": ["1:0", "1:3", "1:6"], "range": ["M-0.8,0A0.8,0.8 0 1,0 0.8,0A0.8,0.8 0 1,0 -0.8,0", "M-0.95,0.7L0.95,0.7L0,-0.95Z", "M-1.2,-1.2H1.2V1.2H-1.2Z"]}, "legend": null},
     "fill": {"field": "s", "type": "nominal", "scale": {"domain": ["1:0", "1:3", "1:6"], "range": ["black", "black", "white"]}, "legend": null}}},
   {"data": {"name": "pts"}, "transform": [{"filter": "datum.p === 'H' && datum.x === -13"}], "mark": {"type": "point", "filled": true, "opacity": 0},
    "encoding": {"x": {"field": "x", "type": "quantitative", "axis": null}, "y": {"field": "y", "type": "quantitative", "axis": null},
     "shape": {"field": "s", "type": "nominal", "scale": {"domain": ["1:0", "1:3", "1:6"], "range": ["M-2.5,-0.125V0.125H-0.5V-0.125ZM0.5,-0.125V0.125H2.5V-0.125ZM-0.6,0A0.6,0.6 0 1,0 0.6,0A0.6,0.6 0 1,0 -0.6,0", "M-2.5,-0.125V0.125H-0.4V-0.125ZM0.4,-0.125V0.125H2.5V-0.125ZM-0.75,0.55L0.75,0.55L0,-0.75Z", "M-2.5,-0.125V0.125H-0.85V-0.125ZM0.85,-0.125V0.125H2.5V-0.125ZM-0.85,-0.85V0.85H0.85V-0.85ZM-0.6,-0.6H0.6V0.6H-0.6Z"]}, "legend": {"orient": "none", "legendX": 93.5, "legendY": -2.8, "symbolOpacity": 1}},
     "fill": {"field": "s", "type": "nominal", "scale": {"domain": ["1:0", "1:3", "1:6"], "range": ["black", "black", "black"]}, "legend": {"orient": "none", "legendX": 93.5, "legendY": -2.8, "symbolOpacity": 1}}}}
  ],
  "resolve": {"axis": {"x": "independent", "y": "independent"}, "scale": {"shape": "independent", "fill": "independent"}, "legend": {"shape": "independent", "fill": "independent"}}}
]
}
